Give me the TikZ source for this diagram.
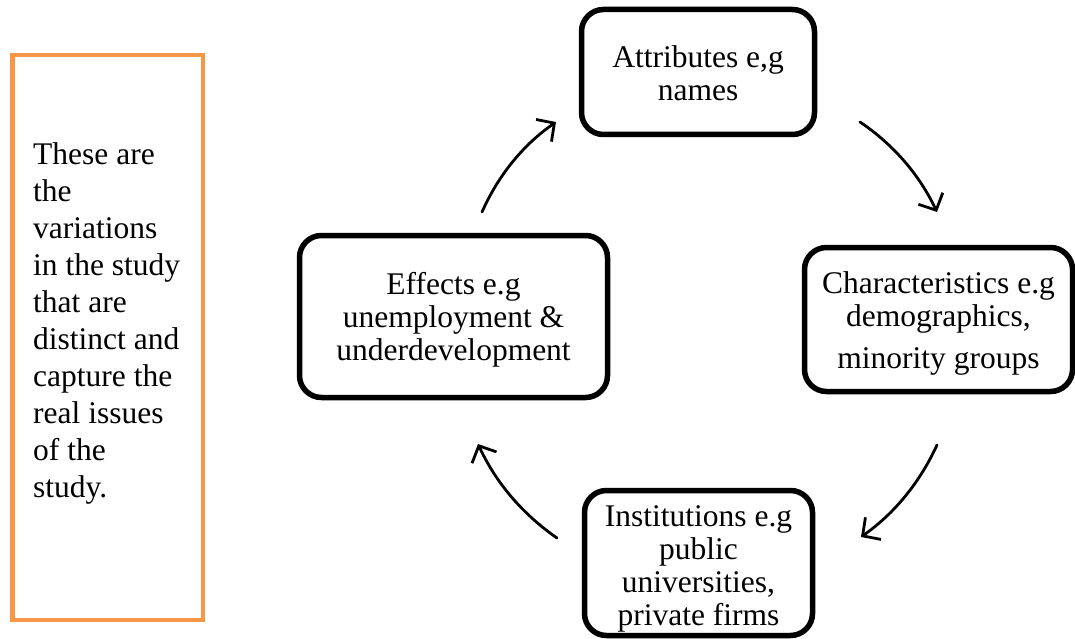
\documentclass[tikz,border=0pt]{standalone}
\usepackage{fontspec}
\setmainfont{Liberation Serif}
\usetikzlibrary{arrows.meta}
\definecolor{boxorange}{HTML}{F79646}
\tikzset{
  cyclebox/.style={draw=black, line width=5.5pt, rounded corners=22pt, fill=white,
    inner sep=0pt},
  cycletext/.style={align=center, inner sep=0pt, font=\fontsize{31.5}{33}\selectfont},
  cyclearrow/.style={draw=black, line width=2.8pt, line cap=round,
    -{Straight Barb[length=13pt,width=27pt,line width=2.8pt]}},
  notebox/.style={draw=boxorange, line width=4.5pt},
  notetext/.style={align=left, inner sep=0pt, anchor=north west,
    font=\fontsize{31.5}{37}\selectfont}
}
\begin{document}
\begin{tikzpicture}[x=1pt,y=-1pt]
\useasboundingbox (0,0) rectangle (1075,639);
\begin{scope}
\clip (0,0) rectangle (1075,639);
% left orange note
\draw[notebox] (12.5,55) rectangle (203,620);
\node[notetext] (note) at (33,142) {These are\\the\\variations\\in the study\\that are\\distinct and\\capture the\\real issues\\of the\\study.};
% cycle boxes
\node[cyclebox, minimum width=233pt, minimum height=125pt] (attr) at (698,72) {};
\node[cycletext] (attrT) at ([yshift=-1pt]attr.center) {Attributes e,g\\names};
\node[cyclebox, minimum width=268pt, minimum height=144pt] (char) at (938.5,319.5) {};
\node[cycletext] (charT) at ([yshift=-3.5pt]char.center) {Characteristics e.g\\demographics,\\[9pt]minority groups};
\node[cyclebox, minimum width=228pt, minimum height=145pt] (inst) at (698.5,563) {};
\node[cycletext] (instT) at ([yshift=-5.5pt]inst.center) {Institutions e.g\\public\\universities,\\private firms};
\node[cyclebox, minimum width=308pt, minimum height=162pt] (eff) at (453.5,316.5) {};
\node[cycletext] (effT) at ([yshift=-3.5pt]eff.center) {Effects e.g\\unemployment \&\\underdevelopment};
% arrow end points
\coordinate (a1s) at (482,212);
\coordinate (a1e) at (556,122);
\coordinate (a2s) at (860,122);
\coordinate (a2e) at (937,212);
\coordinate (a3s) at (937,445);
\coordinate (a3e) at (861,537);
\coordinate (a4s) at (557,538);
\coordinate (a4e) at (478,444);
\draw[cyclearrow] (a1s) .. controls (498.5,175) and (523,145) .. (a1e);
\draw[cyclearrow] (a2s) .. controls (894,145) and (919.4,175) .. (a2e);
\draw[cyclearrow] (a3s) .. controls (920,482) and (895,513) .. (a3e);
\draw[cyclearrow] (a4s) .. controls (522.5,514) and (496,483) .. (a4e);
\end{scope}
\end{tikzpicture}
\end{document}
